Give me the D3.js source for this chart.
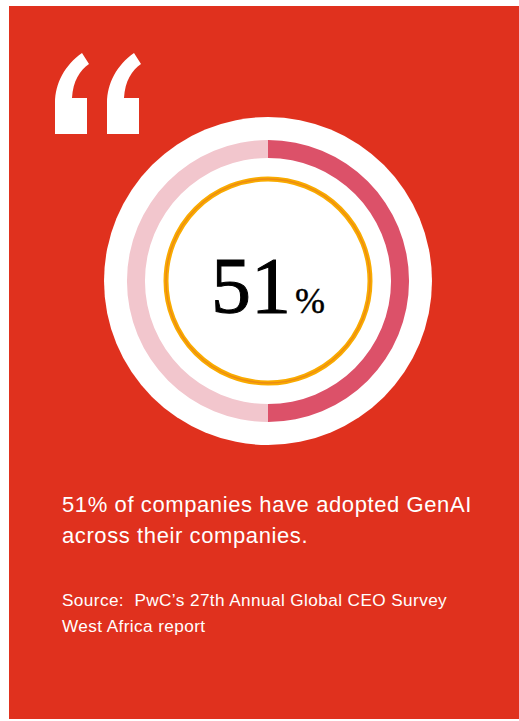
<!DOCTYPE html>
<html>
<head>
<meta charset="utf-8">
<script src="https://cdn.jsdelivr.net/npm/d3@7"></script>
<style>
	body{margin:0;background:#fff;}
	svg{display:block;}
	text{white-space:pre;}
</style>
</head>
<body>
<div id="chart"></div>
<script>
// values (the ring is drawn split at half)
let shares = [50, 50]
let shareLabels = ['adopted', 'not adopted']
let shareColours = ['#dc5169', '#f2c6cd']
let headline = '51'
let headlineUnit = '%'
let bodyLines = ['51% of companies have adopted GenAI', 'across their companies.']
let sourceLines = ['Source:  PwC\u2019s 27th Annual Global CEO Survey', 'West Africa report']

function init(){
	let width = 519, height = 721
	let svg = d3.select('#chart').append('svg').attr('width', width).attr('height', height)

	svg.append('rect')
		.attr('x', 9).attr('y', 6)
		.attr('width', width - 9).attr('height', 713)
		.attr('fill', '#e0311e')

	drawQuote(svg)
	drawDonut(svg)
	drawText(svg)
}

function drawQuote(svg){
	// quote mark, one glyph drawn twice
	let glyph = 'M0,81 L0,50 C0,30 10,12 27,0 L34,11 C25,17 18,28 17,45 L32,45 L32,81 Z'
	;[55, 107].forEach(function(x){
		svg.append('path')
			.attr('d', glyph)
			.attr('fill', '#fff')
			.attr('transform', 'translate(' + x + ',53)')
	})
}

function drawDonut(svg){
	let cx = 268, cy = 281
	let g = svg.append('g').attr('transform', 'translate(' + cx + ',' + cy + ')')

	g.append('circle').attr('r', 164).attr('fill', '#fff')

	let pie = d3.pie().sort(null)
	let arc = d3.arc().innerRadius(123).outerRadius(141)

	g.selectAll('path.share')
		.data(pie(shares))
		.enter().append('path')
		.attr('class', 'share')
		.attr('d', arc)
		.attr('fill', function(d, i){ return shareColours[i] })
		.append('title').text(function(d, i){ return shareLabels[i] })

	// inner gold ring
	g.append('circle').attr('r', 102).attr('fill', 'none')
		.attr('stroke', '#f9ab00').attr('stroke-width', 5)
	g.append('circle').attr('r', 102).attr('fill', 'none')
		.attr('stroke', '#ec8a14').attr('stroke-width', 1.4)

	let t = g.append('text')
		.attr('y', 32)
		.attr('text-anchor', 'middle')
		.attr('font-family', '"Liberation Serif", "DejaVu Serif", serif')
		.attr('fill', '#000')
		.attr('stroke', '#000')
	t.append('tspan').attr('font-size', 80).attr('stroke-width', 1).text(headline)
	t.append('tspan').attr('font-size', 36).attr('stroke-width', 0.4).attr('dx', 4).text(headlineUnit)
}

function drawText(svg){
	let body = svg.append('text')
		.attr('x', 62).attr('y', 512)
		.attr('font-family', '"Liberation Sans", Arial, sans-serif')
		.attr('font-size', 22)
		.attr('letter-spacing', 0.6)
		.attr('fill', '#fff')
	bodyLines.forEach(function(line, i){
		body.append('tspan').attr('x', 62).attr('dy', i == 0 ? 0 : 31).text(line)
	})

	let src = svg.append('text')
		.attr('x', 62).attr('y', 606)
		.attr('font-family', '"Liberation Sans", Arial, sans-serif')
		.attr('font-size', 17.2)
		.attr('letter-spacing', 0.4)
		.attr('fill', '#fff')
	sourceLines.forEach(function(line, i){
		src.append('tspan').attr('x', 62).attr('dy', i == 0 ? 0 : 26).text(line)
	})
}

init()
</script>
</body>
</html>
